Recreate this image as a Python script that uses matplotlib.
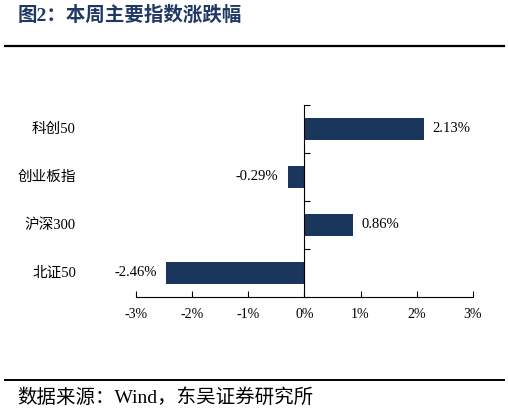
import matplotlib.pyplot as plt
from matplotlib.lines import Line2D
from matplotlib.transforms import blended_transform_factory

plt.rcParams['font.family'] = ['Liberation Serif', 'Noto Sans CJK SC']

categories = ["科创50", "创业板指", "沪深300", "北证50"]
changes = [2.13, -0.29, 0.86, -2.46]
xticks = [-3, -2, -1, 0, 1, 2, 3]
xtick_labels = ["-3%", "-2%", "-1%", "0%", "1%", "2%", "3%"]

BAR_COLOR = "#1B365D"
MIXED = ["Liberation Serif", "Noto Sans CJK SC"]

fig = plt.figure(figsize=(5.09, 4.13), dpi=100)

# title + rules
fig.text(0.035, 0.962, "图2：本周主要指数涨跌幅", fontsize=14, fontweight="bold",
         color="#1F3864", family=MIXED, va="center", ha="left")
fig.add_artist(Line2D([0.01, 0.99], [0.889, 0.889], color="black", lw=1.6,
                      transform=fig.transFigure))
fig.add_artist(Line2D([0.01, 0.99], [0.079, 0.079], color="black", lw=1.4,
                      transform=fig.transFigure))
fig.text(0.033, 0.038, "数据来源：Wind，东吴证券研究所", fontsize=14,
         family=MIXED, va="center", ha="left")

ax = fig.add_axes([0.267, 0.281, 0.662, 0.465])
y = list(range(len(categories)))
ax.barh(y, changes, height=0.46, color=BAR_COLOR)

ax.set_xlim(-3, 3)
ax.set_ylim(len(categories) - 0.5, -0.5)
ax.set_xticks(xticks)
ax.set_xticklabels(xtick_labels, fontsize=10)
ax.set_yticks([i - 0.5 for i in range(len(categories) + 1)])
ax.set_yticklabels([])
ax.tick_params(axis="x", direction="in", length=4, width=0.8, pad=8)
ax.tick_params(axis="y", direction="in", length=4, width=0.8)

for s in ["top", "right"]:
    ax.spines[s].set_visible(False)
ax.spines["left"].set_position(("data", 0))
ax.spines["left"].set_linewidth(0.8)
ax.spines["bottom"].set_linewidth(0.8)

trans = blended_transform_factory(ax.transAxes, ax.transData)
for i, name in enumerate(categories):
    ax.text(-0.178, i, name, transform=trans, ha="right", va="center",
            fontsize=10.5, family=MIXED)

for i, v in enumerate(changes):
    if v >= 0:
        ax.annotate(f"{v:.2f}%", (v, i), xytext=(6, 0), textcoords="offset points",
                    ha="left", va="center", fontsize=10.5)
    else:
        ax.annotate(f"{v:.2f}%", (v, i), xytext=(-7, 0), textcoords="offset points",
                    ha="right", va="center", fontsize=10.5)

fig.savefig("out.png", dpi=100)
